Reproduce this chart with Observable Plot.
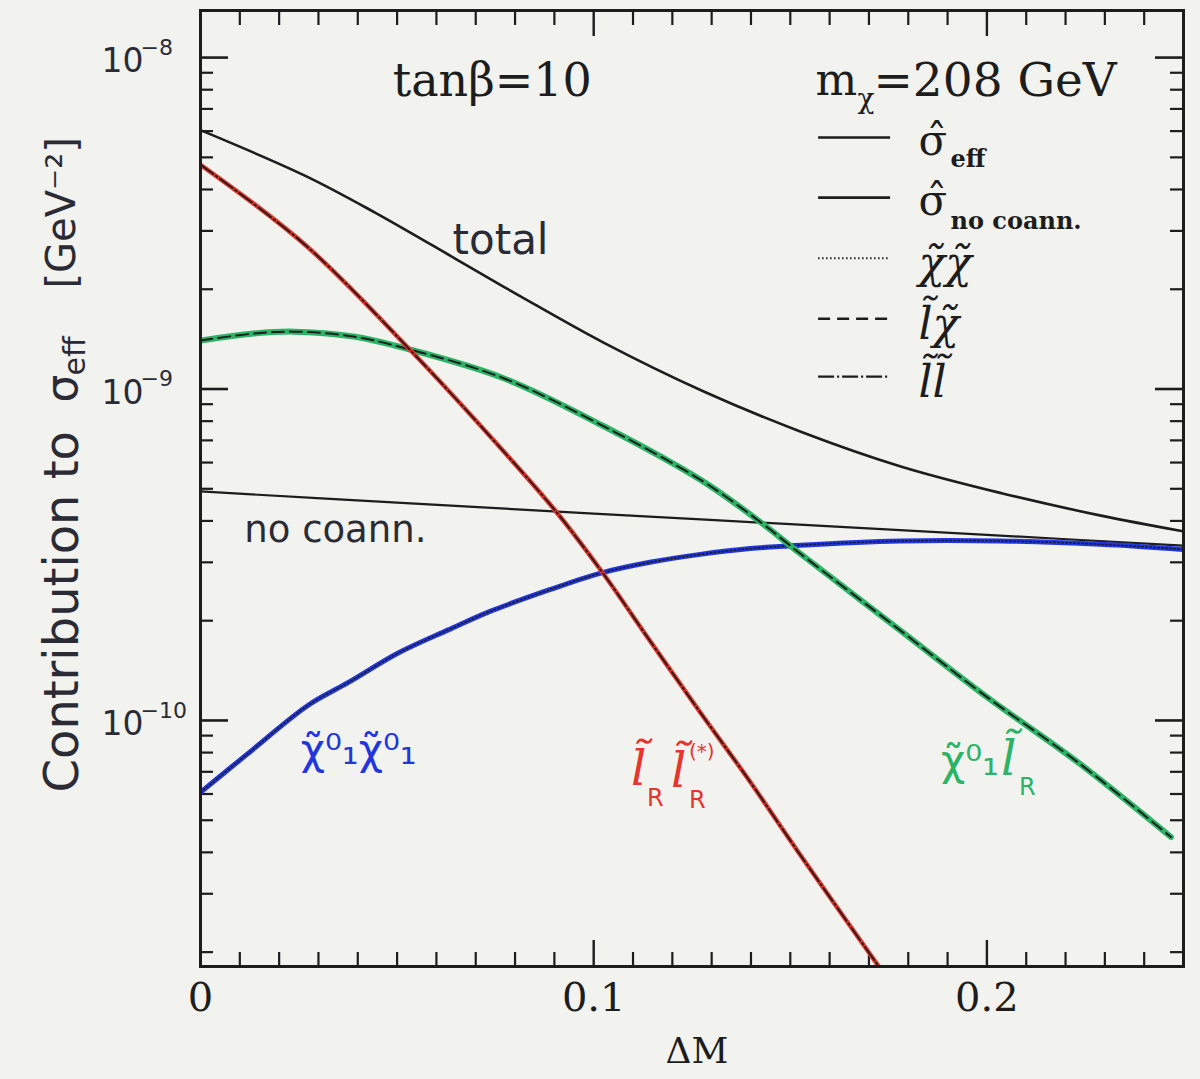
<!DOCTYPE html>
<html><head><meta charset="utf-8">
<script src="https://cdn.jsdelivr.net/npm/d3@7"></script>
<script src="https://cdn.jsdelivr.net/npm/@observablehq/plot@0.6"></script>
<style>
html,body{margin:0;padding:0;background:#f2f2ef;}
#chart{width:1200px;height:1079px;}
</style></head><body><div id="chart"></div>
<script>
// ---- data (ΔM, contribution to sigma_eff in GeV^-2) ----
const dmTotal      = [0, 0.0268, 0.0445, 0.0654, 0.0815, 0.1025, 0.1277, 0.153, 0.1783, 0.2037, 0.229, 0.25];
const sigmaTotal   = [6.04e-9, 4.39e-9, 3.40e-9, 2.45e-9, 1.90e-9, 1.38e-9, 9.86e-10, 7.41e-10, 5.83e-10, 4.85e-10, 4.15e-10, 3.72e-10];
const dmNoCoann    = [0, 0.05, 0.1, 0.15, 0.2, 0.25];
const sigmaNoCoann = [4.91e-10, 4.54e-10, 4.21e-10, 3.91e-10, 3.63e-10, 3.37e-10];
const dmChiChi     = [0, 0.0118, 0.0273, 0.0375, 0.0504, 0.0632, 0.0735, 0.0888, 0.1016, 0.1143, 0.1271, 0.1398, 0.1526, 0.178, 0.2035, 0.2289, 0.25];
const sigmaChiChi  = [6.07e-11, 7.9e-11, 1.11e-10, 1.30e-10, 1.60e-10, 1.88e-10, 2.13e-10, 2.48e-10, 2.78e-10, 3.00e-10, 3.17e-10, 3.30e-10, 3.38e-10, 3.48e-10, 3.48e-10, 3.40e-10, 3.28e-10];
const dmSlepChi    = [0, 0.0135, 0.0236, 0.0389, 0.0528, 0.0769, 0.1022, 0.1274, 0.1425, 0.1525, 0.1777, 0.2003, 0.223, 0.2468];
const sigmaSlepChi = [1.40e-9, 1.47e-9, 1.49e-9, 1.44e-9, 1.32e-9, 1.08e-9, 7.76e-10, 5.30e-10, 3.96e-10, 3.19e-10, 1.88e-10, 1.17e-10, 7.5e-11, 4.45e-11];
const dmSlepSlep   = [0, 0.0268, 0.0531, 0.0769, 0.0902, 0.1019, 0.1143, 0.1268, 0.1392, 0.1517, 0.1725];
const sigmaSlepSlep= [4.75e-9, 2.71e-9, 1.32e-9, 6.52e-10, 4.30e-10, 2.83e-10, 1.74e-10, 1.07e-10, 6.68e-11, 4.06e-11, 1.81e-11];

const xTicksMajor = [0, 0.1, 0.2];
const xTickLabels = ["0", "0.1", "0.2"];
const yTicksMajor = [1e-8, 1e-9, 1e-10];
const yTickBase   = ["10", "10", "10"];
const yTickExp    = ["−8", "−9", "−10"];

const legendLabels = ["σ̂", "σ̂", "χ̃χ̃", "l̃χ̃", "l̃l̃"];
const legendY      = [5.74e-9, 3.78e-9, 2.48e-9, 1.63e-9, 1.09e-9];

// ---- layout ----
const W = 1200, H = 1079, ML = 200, MR = 17, MT = 10, MB = 113;
const innerW = W - ML - MR, innerH = H - MT - MB;
const yDomain = [1.81e-11, 1.387e-8];

const toRows = (xs, ys) => xs.map((x, i) => ({x, y: ys[i]}));
const total = toRows(dmTotal, sigmaTotal);
const noCoann = toRows(dmNoCoann, sigmaNoCoann);
const chiChi = toRows(dmChiChi, sigmaChiChi);
const slepChi = toRows(dmSlepChi, sigmaSlepChi);
const slepSlep = toRows(dmSlepSlep, sigmaSlepSlep);

const xMinor = d3.range(1, 25).map(i => i / 100).filter(v => Math.abs(v - 0.1) > 1e-9 && Math.abs(v - 0.2) > 1e-9);
const yMinor = [];
for (let e = -11; e <= -8; e++) for (let k = 2; k <= 9; k++) {
  const v = k * Math.pow(10, e);
  if (v > yDomain[0] && v < yDomain[1]) yMinor.push(v);
}

const INK = "#1d1d1d", HAND = "#2b2b35";
const BLUE = "#2236de", GREEN = "#2bb466", RED = "#e6352b";
const SERIF = "DejaVu Serif, Liberation Serif, serif";
const SANS = "DejaVu Sans, sans-serif";

function label(x, y, fill, family, segs) {
  return segs.map(s => Plot.text([{x, y}], {
    x: "x", y: "y", text: () => s.t, dx: s.dx, dy: s.dy, fontSize: s.size,
    fill, fontFamily: s.family || family, fontWeight: s.bold ? "bold" : "normal",
    fontStyle: s.italic ? "italic" : "normal",
    textAnchor: "start", lineAnchor: "middle"
  }));
}

const curve = "catmull-rom";
const midY = MT + innerH / 2;

const chart = Plot.plot({
  width: W, height: H,
  marginLeft: ML, marginRight: MR, marginTop: MT, marginBottom: MB,
  style: {background: "#f2f2ef", overflow: "visible"},
  x: {domain: [0, 0.25], axis: null},
  y: {type: "log", domain: yDomain, axis: null},
  marks: [
    // ticks (inward, all four sides)
    Plot.tickX(xMinor, {x: d => d, insetTop: innerH - 14, stroke: INK, strokeWidth: 2.2}),
    Plot.tickX(xMinor, {x: d => d, insetBottom: innerH - 15, stroke: INK, strokeWidth: 2.2}),
    Plot.tickX(xTicksMajor, {x: d => d, insetTop: innerH - 26, stroke: INK, strokeWidth: 2.4}),
    Plot.tickX(xTicksMajor, {x: d => d, insetBottom: innerH - 26, stroke: INK, strokeWidth: 2.4}),
    Plot.tickY(yMinor, {y: d => d, insetRight: innerW - 13, stroke: INK, strokeWidth: 2.2}),
    Plot.tickY(yMinor, {y: d => d, insetLeft: innerW - 13, stroke: INK, strokeWidth: 2.2}),
    Plot.tickY(yTicksMajor, {y: d => d, insetRight: innerW - 28, stroke: INK, strokeWidth: 2.6}),
    Plot.tickY(yTicksMajor, {y: d => d, insetLeft: innerW - 28, stroke: INK, strokeWidth: 2.6}),

    // curves
    Plot.line(noCoann, {x: "x", y: "y", stroke: INK, strokeWidth: 2.2, curve, clip: true}),
    Plot.line(total, {x: "x", y: "y", stroke: INK, strokeWidth: 2.6, curve, clip: true}),
    Plot.line(chiChi, {x: "x", y: "y", stroke: BLUE, strokeWidth: 5, curve, clip: true}),
    Plot.line(chiChi, {x: "x", y: "y", stroke: INK, strokeWidth: 1.6, strokeDasharray: "1.5,2.5", curve, clip: true}),
    Plot.line(slepChi, {x: "x", y: "y", stroke: GREEN, strokeWidth: 6, curve, clip: true}),
    Plot.line(slepChi, {x: "x", y: "y", stroke: INK, strokeWidth: 2, strokeDasharray: "12,6", curve, clip: true}),
    Plot.line(slepSlep, {x: "x", y: "y", stroke: RED, strokeWidth: 4.5, curve, clip: true}),
    Plot.line(slepSlep, {x: "x", y: "y", stroke: INK, strokeWidth: 1.8, strokeDasharray: "16,3,2,3", curve, clip: true}),

    Plot.frame({stroke: INK, strokeWidth: 3}),

    // axis labels
    Plot.text(xTicksMajor, {x: d => d, frameAnchor: "bottom", dy: 44, text: (d, i) => xTickLabels[i], fontSize: 40, fontFamily: SERIF, fill: INK}),
    Plot.text(yTicksMajor, {y: d => d, frameAnchor: "left", dx: -78, dy: 4, textAnchor: "middle", text: (d, i) => yTickBase[i], fontSize: 33, fontFamily: SANS, fill: HAND}),
    Plot.text(yTicksMajor, {y: d => d, frameAnchor: "left", dx: -60, dy: -10, textAnchor: "start", text: (d, i) => yTickExp[i], fontSize: 22, fontFamily: SANS, fill: HAND}),
    Plot.text(["ΔM"], {frameAnchor: "bottom", dx: 5, dy: 96, text: d => d, fontSize: 36, fontFamily: SERIF, fill: INK}),
    Plot.text(["Contribution to"], {frameAnchor: "left", dx: -138, dy: 792 - midY, rotate: -90, textAnchor: "start", text: d => d, fontSize: 48, fontFamily: SANS, fill: HAND}),
    Plot.text(["σ"], {frameAnchor: "left", dx: -138, dy: 402 - midY, rotate: -90, textAnchor: "start", text: d => d, fontSize: 44, fontFamily: SANS, fill: HAND}),
    Plot.text(["eff"], {frameAnchor: "left", dx: -125, dy: 375 - midY, rotate: -90, textAnchor: "start", text: d => d, fontSize: 30, fontFamily: SANS, fill: HAND}),
    Plot.text(["[GeV⁻²]"], {frameAnchor: "left", dx: -138, dy: 288 - midY, rotate: -90, textAnchor: "start", text: d => d, fontSize: 40, fontFamily: SANS, fill: HAND}),

    // header texts
    Plot.text([{x: 0.0742, y: 8.5e-9}], {x: "x", y: "y", text: () => "tanβ=10", fontSize: 46, fontFamily: SERIF, fill: INK}),
    ...label(0.1564, 8.5e-9, INK, SERIF, [
      {t: "m", dx: 0, dy: 0, size: 44},
      {t: "χ", dx: 42, dy: 18, size: 28},
      {t: "=208 GeV", dx: 58, dy: 0, size: 47}
    ]),

    // legend
    Plot.ruleY(legendY.slice(0, 2), {y: d => d, x1: 0.1572, x2: 0.1755, stroke: INK, strokeWidth: 2.6}),
    Plot.ruleY(legendY.slice(2, 3), {y: d => d, x1: 0.1572, x2: 0.1755, stroke: INK, strokeWidth: 2, strokeDasharray: "1.5,2.5"}),
    Plot.ruleY(legendY.slice(3, 4), {y: d => d, x1: 0.1572, x2: 0.1755, stroke: INK, strokeWidth: 2.4, strokeDasharray: "12,7"}),
    Plot.ruleY(legendY.slice(4, 5), {y: d => d, x1: 0.1572, x2: 0.1755, stroke: INK, strokeWidth: 2.4, strokeDasharray: "16,3,2,3"}),
    Plot.text(legendY.slice(0, 2), {x: 0.1826, y: d => d, dy: 4, text: (d, i) => legendLabels[i], fontSize: 42, fontFamily: SERIF, fill: INK, textAnchor: "start"}),
    Plot.text(legendY.slice(2), {x: 0.1826, y: d => d, dy: 6, text: (d, i) => legendLabels[i + 2], fontSize: 44, fontFamily: SERIF, fontStyle: "italic", fill: INK, textAnchor: "start"}),
    ...label(0.1826, legendY[0], INK, SERIF, [{t: "eff", dx: 32, dy: 22, size: 24, bold: true}]),
    ...label(0.1826, legendY[1], INK, SERIF, [{t: "no coann.", dx: 32, dy: 24, size: 24, bold: true}]),

    // curve annotations
    Plot.text([{x: 0.0763, y: 2.81e-9}], {x: "x", y: "y", text: () => "total", fontSize: 42, fontFamily: SANS, fill: HAND}),
    Plot.text([{x: 0.0343, y: 3.74e-10}], {x: "x", y: "y", text: () => "no coann.", fontSize: 37, fontFamily: SANS, fill: HAND}),
    ...label(0.0255, 8.13e-11, BLUE, SANS, [
      {t: "χ̃⁰₁χ̃⁰₁", dx: 0, dy: 0, size: 42}
    ]),
    ...label(0.1095, 6.8e-11, RED, SANS, [
      {t: "l̃", dx: 0, dy: -6, size: 48, family: SERIF, italic: true},
      {t: "R", dx: 16, dy: 22, size: 24},
      {t: "l̃", dx: 40, dy: -4, size: 48, family: SERIF, italic: true},
      {t: "(*)", dx: 58, dy: -24, size: 20},
      {t: "R", dx: 58, dy: 24, size: 24}
    ]),
    ...label(0.1883, 7.3e-11, GREEN, SANS, [
      {t: "χ̃⁰₁", dx: 0, dy: -4, size: 42},
      {t: "l̃", dx: 60, dy: -6, size: 48, family: SERIF, italic: true},
      {t: "R", dx: 78, dy: 22, size: 24}
    ])
  ]
});
document.getElementById("chart").append(chart);
</script>
</body></html>
